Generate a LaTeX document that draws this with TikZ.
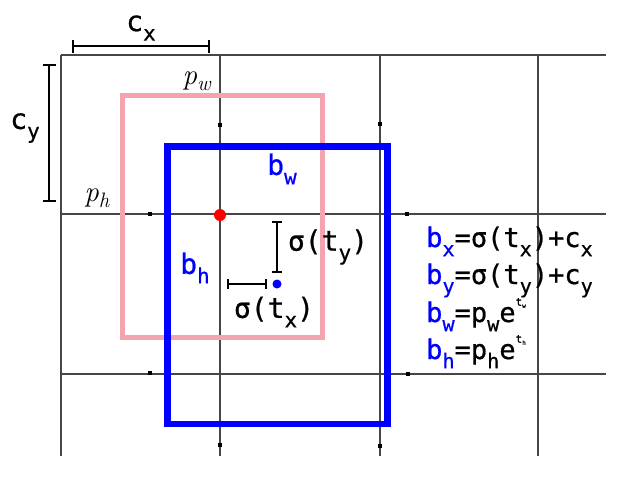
\documentclass[tikz,border=0pt]{standalone}
\usepackage{fontspec}
\newfontfamily\monofont[FakeBold=0.7]{DejaVu Sans Mono}
\usetikzlibrary{arrows.meta}

\definecolor{priorpink}{RGB}{243,164,174}
\definecolor{gridgray}{RGB}{70,70,70}

\newcommand{\sbs}[1]{\raisebox{-0.34em}{\scalebox{0.75}{#1}}}
\newcommand{\psub}[1]{\textit{p}\raisebox{-0.22em}{\scalebox{0.72}{\textit{#1}}}}
\newcommand{\expo}[1]{\raisebox{1.1ex}{\fontsize{11}{11}\selectfont t\raisebox{-0.35ex}{\fontsize{6}{6}\selectfont #1}}}

\tikzset{
  grid line/.style={draw=gridgray, line width=1.3pt},
  prior box/.style={draw=priorpink, line width=5pt},
  pred box/.style={draw=blue, line width=6.5pt},
  span bar/.style={line width=2.4pt, {Bar[width=13pt]}-{Bar[width=13pt]}},
  small bar/.style={line width=2.2pt, {Bar[width=10pt]}-{Bar[width=10pt]}},
  txt/.style={font=\monofont\fontsize{28}{30}\selectfont, inner sep=0pt},
  eq/.style={font=\monofont\fontsize{27}{30}\selectfont, inner sep=0pt, anchor=base west},
  pmath/.style={font=\fontsize{29}{31}\selectfont, inner sep=0pt},
}

\begin{document}
\begin{tikzpicture}[x=1pt, y=-1pt]
\useasboundingbox (0,0) rectangle (641,482);

% grid of cells
\foreach \y in {55,214,374}
  \draw[grid line] (61,\y) -- (606,\y);
\foreach \x in {61,220,380,538}
  \draw[grid line] (\x,55) -- (\x,456);
% little marks on the grid
\foreach \x/\y in {220/125, 150/214, 407/214, 150/373, 408/374, 220/445, 380/446, 380/124}
  \fill[black] (\x-2,\y-1.8) rectangle (\x+2,\y+1.8);

% prior box p and predicted box b
\draw[prior box] (122.5,95) rectangle (322.5,337.5);
\draw[pred box] (167.5,146.5) rectangle (387.5,424);

% cell corner and box centre
\node[circle, fill=red, minimum size=12pt, inner sep=0pt] (cell) at (220,215) {};
\node[circle, fill=blue, minimum size=9pt, inner sep=0pt] (center) at (277,284) {};

% offsets c_x, c_y
\coordinate (cx left) at (72,46);
\coordinate (cx right) at (210,46);
\draw[span bar] (cx left) -- (cx right);
\node[txt] (cx) at (141,28) {c\sbs{x}};

\coordinate (cy top) at (49,64);
\coordinate (cy bot) at (49,202);
\draw[span bar] (cy top) -- (cy bot);
\node[txt] (cy) at (25,128) {c\sbs{y}};

% sigma(t_y), sigma(t_x)
\coordinate (ty top) at (277,221);
\coordinate (ty bot) at (277,273);
\draw[small bar] (ty top) -- (ty bot);
\node[txt] (sty) at (328,247) {σ(t\sbs{y})};

\coordinate (tx left) at (227,284);
\coordinate (tx right) at (267,284);
\draw[small bar] (tx left) -- (tx right);
\node[txt] (stx) at (274,312) {σ(t\sbs{x})};

% box sizes
\node[pmath] (pw) at (197,81) {\psub{w}};
\node[pmath] (ph) at (97,198) {\psub{h}};
\node[txt, text=blue] (bw) at (282,169) {b\sbs{w}};
\node[txt, text=blue] (bh) at (195,268) {b\sbs{h}};

% equations
\node[eq] (eq bx) at (426,247) {\textcolor{blue}{b\sbs{x}}=σ(t\sbs{x})+c\sbs{x}};
\node[eq] (eq by) at (426,284) {\textcolor{blue}{b\sbs{y}}=σ(t\sbs{y})+c\sbs{y}};
\node[eq] (eq bw) at (426,322) {\textcolor{blue}{b\sbs{w}}=p\sbs{w}e\expo{w}};
\node[eq] (eq bh) at (426,359) {\textcolor{blue}{b\sbs{h}}=p\sbs{h}e\expo{h}};
\end{tikzpicture}
\end{document}
